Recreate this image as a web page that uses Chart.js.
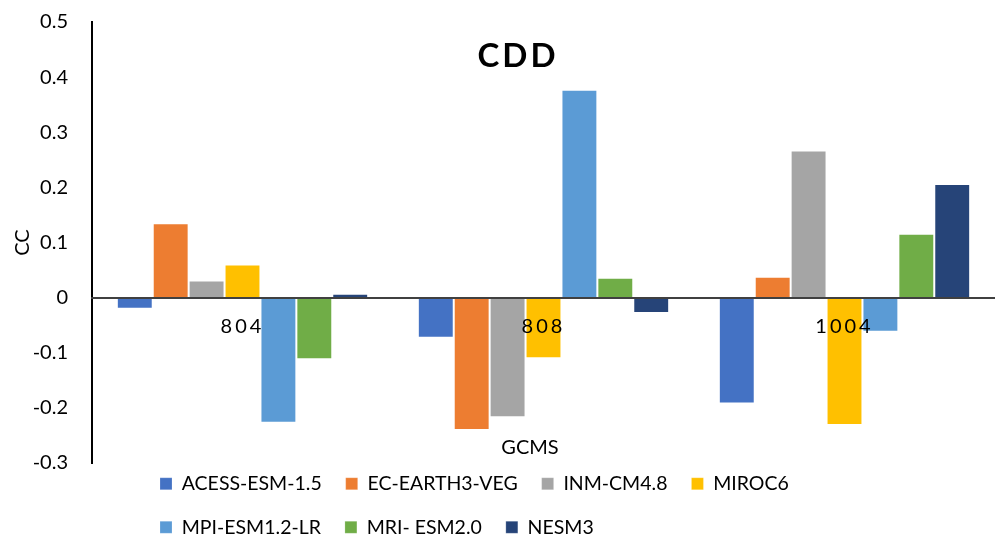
<!DOCTYPE html>
<html lang="en">

<head>
  <meta charset="UTF-8" />
  <meta name="viewport" content="width=device-width, initial-scale=1.0" />
  <title>CDD</title>
  <style>
    body {
      margin: 0;
      background: #fff;
    }

    div.chart_box {
      width: 995px;
      height: 539px;
    }
  </style>
  <script src="https://cdn.jsdelivr.net/npm/chart.js"></script>
</head>

<body>
  <div class="chart_box">
    <canvas id="chart"></canvas>
  </div>
</body>

</html>
<script>
  // data
  const categories = ['804', '808', '1004']
  const seriesNames = ['ACESS-ESM-1.5', 'EC-EARTH3-VEG', 'INM-CM4.8', 'MIROC6', 'MPI-ESM1.2-LR', 'MRI- ESM2.0', 'NESM3']
  const acessValues = [-0.02, -0.073, -0.192]
  const ecEarthValues = [0.135, -0.24, 0.038]
  const inmValues = [0.031, -0.217, 0.267]
  const mirocValues = [0.06, -0.11, -0.231]
  const mpiValues = [-0.227, 0.377, -0.062]
  const mriValues = [-0.112, 0.036, 0.116]
  const nesmValues = [0.007, -0.028, 0.206]
  const yMin = -0.3
  const yMax = 0.5
  const yStep = 0.1
  const chartTitle = 'CDD'
  const xTitle = 'GCMS'
  const yTitle = 'CC'

  const seriesValues = [acessValues, ecEarthValues, inmValues, mirocValues, mpiValues, mriValues, nesmValues]
  const colors = ['#4472C4', '#ED7D31', '#A5A5A5', '#FFC000', '#5B9BD5', '#70AD47', '#264478']

  Chart.defaults.font.family = 'Lato'
  Chart.defaults.font.size = 20
  Chart.defaults.color = '#000'

  // title and x axis name sit inside the plot, like the original
  const textPlugin = {
    id: 'textPlugin',
    afterLayout(chart) {
      // legend laid out as two left aligned rows under the plot
      const legend = chart.legend
      legend.left = 136
      legend.right = 900
      legend.top = 450

      // spaced out category labels
      const x = chart.scales.x
      if (!x._spaced) {
        const orig = x.drawLabels
        x.drawLabels = function (area) {
          this.ctx.save()
          this.ctx.letterSpacing = '3px'
          orig.call(this, area)
          this.ctx.restore()
        }
        x._spaced = true
      }
    },
    afterDraw(chart) {
      const ctx = chart.ctx
      ctx.save()
      ctx.fillStyle = '#000'
      ctx.textAlign = 'center'
      ctx.textBaseline = 'middle'
      ctx.font = 'bold 33px Lato'
      ctx.letterSpacing = '3px'
      ctx.fillText(chartTitle, 518, 56)
      ctx.letterSpacing = '0px'
      ctx.font = '20px Lato'
      ctx.fillText(xTitle, 530, 448)
      ctx.restore()
    }
  }

  const chart = new Chart(document.querySelector('#chart'), {
    type: 'bar',
    data: {
      labels: categories,
      datasets: seriesNames.map((name, i) => ({
        label: name,
        data: seriesValues[i],
        backgroundColor: colors[i],
        borderColor: 'rgba(255,255,255,0.2)',
        borderWidth: 1
      }))
    },
    options: {
      animation: false,
      responsive: true,
      maintainAspectRatio: false,
      layout: {
        padding: { top: 10, right: 0, bottom: 0, left: 0 }
      },
      datasets: {
        bar: {
          barPercentage: 1,
          categoryPercentage: 0.835
        }
      },
      plugins: {
        title: { display: false },
        tooltip: { enabled: false },
        legend: {
          position: 'bottom',
          align: 'start',
          maxHeight: 76,
          labels: {
            boxWidth: 12,
            boxHeight: 12,
            padding: 24,
            color: '#000',
            font: { size: 19.5 }
          }
        }
      },
      scales: {
        x: {
          position: { y: 0 },
          grid: { display: false, drawTicks: false },
          border: { display: true, color: '#404040', width: 2, z: 1 },
          ticks: { z: 1, padding: 17, color: '#000', font: { size: 20 } }
        },
        y: {
          min: yMin,
          max: yMax,
          grid: { display: false, drawTicks: false },
          border: { display: true, color: '#000', width: 2 },
          ticks: { stepSize: yStep, padding: 24, color: '#000', font: { size: 20 } },
          title: { display: true, text: yTitle, color: '#000', font: { size: 20 }, padding: { top: 11, bottom: 0 } },
          afterFit(scale) {
            scale.width = 92
            scale.paddingTop = 22
            scale.paddingBottom = 12
          }
        }
      }
    },
    plugins: [textPlugin]
  })
</script>
